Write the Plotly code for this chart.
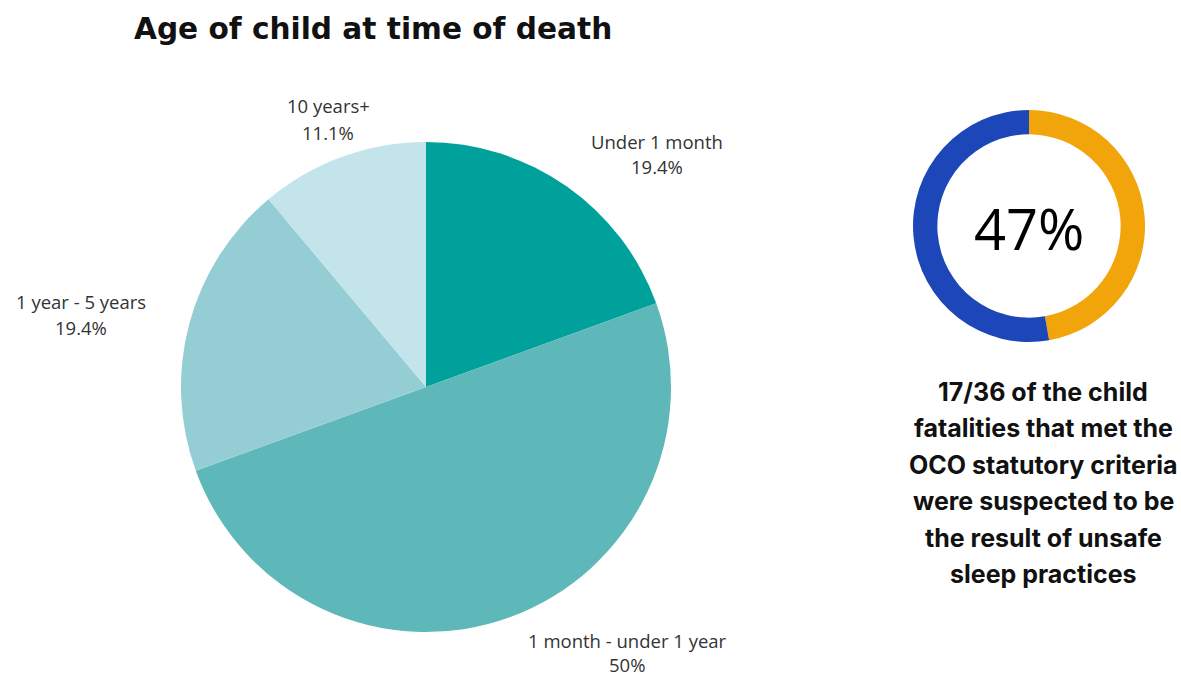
import plotly.graph_objects as go

W, H = 1181, 677

# Data
age_labels = ["Under 1 month", "1 month - under 1 year", "1 year - 5 years", "10 years+"]
age_counts = [7, 18, 7, 4]
age_pct_text = ["19.4%", "50%", "19.4%", "11.1%"]
age_colors = ["#00A19A", "#5EB8B9", "#95CDD4", "#C2E4EA"]

unsafe_labels = ["Unsafe sleep", "Other"]
unsafe_counts = [17, 19]
unsafe_colors = ["#F2A50A", "#1D47B8"]

title_text = "Age of child at time of death"
donut_text = "47%"
side_lines = ["17/36 of the child", "fatalities that met the", "OCO statutory criteria",
              "were suspected to be", "the result of unsafe", "sleep practices"]

# label placement (pixel center x, first-line center y, line gap)
label_pos = [(657, 141, 26), (627, 640, 24), (81, 301, 26), (328, 106, 26)]


def px(x):
    return x / W


def py(y):
    return 1 - y / H


fig = go.Figure()

fig.add_trace(go.Pie(
    labels=age_labels, values=age_counts, sort=False, direction="clockwise", rotation=0,
    marker=dict(colors=age_colors, line=dict(width=0)), textinfo="none", hoverinfo="label+percent",
    domain=dict(x=[px(426 - 245), px(426 + 245)], y=[py(387 + 245), py(387 - 245)]),
    showlegend=False,
))

fig.add_trace(go.Pie(
    labels=unsafe_labels, values=unsafe_counts, sort=False, direction="clockwise", rotation=0,
    hole=0.79, marker=dict(colors=unsafe_colors, line=dict(width=0)), textinfo="none",
    domain=dict(x=[px(1029 - 116), px(1029 + 116)], y=[py(226 + 116), py(226 - 116)]),
    showlegend=False,
))

annotations = []
annotations.append(dict(text=f"<b>{title_text}</b>", x=px(132), y=py(29), xanchor="left", yanchor="middle",
                        showarrow=False, font=dict(family="DejaVu Sans", size=29.6, color="#111")))
lab_font = dict(family="Open Sans", size=18.5, color="#333")
for lab, pct, (x, y, gap) in zip(age_labels, age_pct_text, label_pos):
    annotations.append(dict(text=lab, x=px(x), y=py(y), xanchor="center", yanchor="middle",
                            showarrow=False, font=lab_font))
    annotations.append(dict(text=pct, x=px(x), y=py(y + gap), xanchor="center", yanchor="middle",
                            showarrow=False, font=lab_font))
annotations.append(dict(text=donut_text, x=px(1029), y=py(228), xanchor="center", yanchor="middle",
                        showarrow=False, font=dict(family="Open Sans", size=56, color="#000")))
for i, line in enumerate(side_lines):
    annotations.append(dict(text=f"<b>{line}</b>", x=px(1043), y=py(392 + i * 36.4), xanchor="center",
                            yanchor="middle", showarrow=False,
                            font=dict(family="Inter, Open Sans", size=25, color="#111")))

fig.update_layout(
    width=W, height=H, margin=dict(l=0, r=0, t=0, b=0),
    paper_bgcolor="white", plot_bgcolor="white",
    annotations=annotations,
)

fig.write_html("out.html")
